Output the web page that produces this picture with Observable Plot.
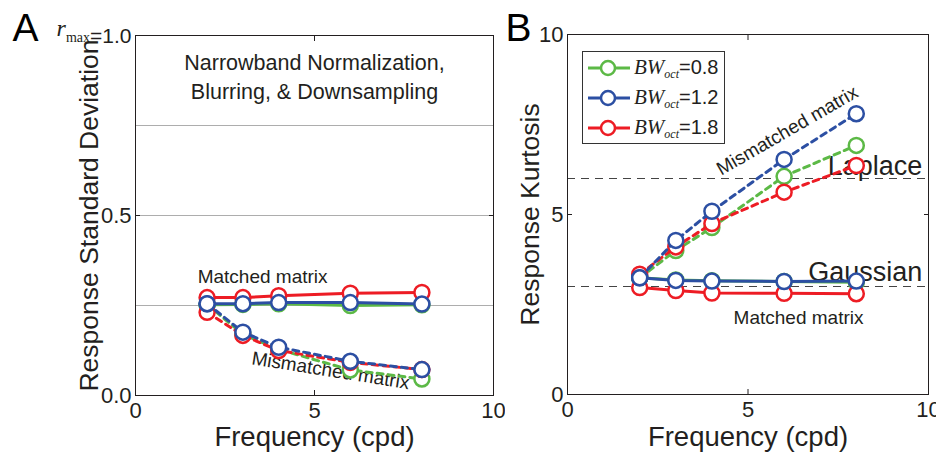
<!DOCTYPE html>
<html><head><meta charset="utf-8">
<script src="https://cdn.jsdelivr.net/npm/d3@7"></script>
<script src="https://cdn.jsdelivr.net/npm/@observablehq/plot@0.6"></script>
<style>
body{margin:0;background:#fff;}
#chart{position:relative;width:936px;height:452px;display:flex;font-family:"Liberation Sans",Arial,Helvetica,sans-serif;color:#231f20;}
#chart svg{display:block;}
#legend{position:absolute;left:582px;top:51px;border:1px solid #333;background:#fff;padding:1px 6px 0 5px;}
.row{display:flex;align-items:center;height:30px;}
.lab{font-size:20px;margin-left:2px;white-space:nowrap;line-height:1;}
.lab i{font-family:"Liberation Serif","Times New Roman",serif;font-size:21px;}
.lab sub{font-size:12px;vertical-align:-4px;}
</style></head>
<body><div id="chart"></div>
<script>
// ---- data ----
const freqs = [2, 3, 4, 6, 8];
const bandwidths = ["0.8", "1.2", "1.8"];
const drawOrder = ["0.8", "1.8", "1.2"];
const seriesColors = ["#5cb946", "#2c4fa3", "#ed1c24"];

// Panel A: response standard deviation
const sdMatched08 = [0.252, 0.253, 0.255, 0.250, 0.252];
const sdMatched12 = [0.255, 0.255, 0.258, 0.258, 0.254];
const sdMatched18 = [0.272, 0.272, 0.277, 0.284, 0.286];
const sdMismatched08 = [0.253, 0.170, 0.128, 0.071, 0.046];
const sdMismatched12 = [0.255, 0.176, 0.134, 0.095, 0.072];
const sdMismatched18 = [0.231, 0.167, 0.125, 0.092, 0.072];

// Panel B: response kurtosis
const kMatched08 = [3.24, 3.18, 3.16, 3.14, 3.12];
const kMatched12 = [3.24, 3.17, 3.15, 3.14, 3.15];
const kMatched18 = [2.97, 2.89, 2.82, 2.81, 2.80];
const kMismatched08 = [3.24, 4.00, 4.64, 6.06, 6.92];
const kMismatched12 = [3.24, 4.28, 5.09, 6.53, 7.80];
const kMismatched18 = [3.34, 4.10, 4.75, 5.62, 6.36];

// ticks
const xTicks = [0, 5, 10];
const xInnerTicks = [5];
const yTicksA = [0, 0.5, 1];
const yInnerTicksA = [0.5];
const gridA = [0.25, 0.5, 0.75];
const yTicksB = [0, 5, 10];
const yInnerTicksB = [5];
const refLinesB = [3, 6];

// text
const titleA = ["Narrowband Normalization,", "Blurring, & Downsampling"];
const xLabel = "Frequency (cpd)";
const yLabelA = "Response Standard Deviation";
const yLabelB = "Response Kurtosis";
const annotationsA = [
  {text: titleA[0], x: 5.0, y: 0.922, rotate: 0, size: 21.5},
  {text: titleA[1], x: 5.0, y: 0.842, rotate: 0, size: 21.5},
  {text: "Matched matrix", x: 3.55, y: 0.33, rotate: 0, size: 19},
  {text: "Mismatched matrix", x: 5.45, y: 0.069, rotate: 9, size: 19}
];
const annotationsB = [
  {text: "Mismatched matrix", x: 6.09, y: 7.33, rotate: -30, size: 19},
  {text: "Matched matrix", x: 6.4, y: 2.14, rotate: 0, size: 19}
];
const refLabelsB = [
  {text: "Laplace", x: 9.83, y: 6.11},
  {text: "Gaussian", x: 9.83, y: 3.15}
];

// ---- build tables ----
function rows(values, bw, kind) {
  return freqs.map((f, i) => ({freq: f, value: values[i], bw, kind}));
}
const dataA = [
  ...rows(sdMatched08, "0.8", "matched"), ...rows(sdMatched12, "1.2", "matched"), ...rows(sdMatched18, "1.8", "matched"),
  ...rows(sdMismatched08, "0.8", "mismatched"), ...rows(sdMismatched12, "1.2", "mismatched"), ...rows(sdMismatched18, "1.8", "mismatched")
];
const dataB = [
  ...rows(kMatched08, "0.8", "matched"), ...rows(kMatched12, "1.2", "matched"), ...rows(kMatched18, "1.8", "matched"),
  ...rows(kMismatched08, "0.8", "mismatched"), ...rows(kMismatched12, "1.2", "mismatched"), ...rows(kMismatched18, "1.8", "mismatched")
];

const ink = "#231f20";
function seriesMarks(data) {
  const marks = [];
  for (const bw of drawOrder) {
    for (const kind of ["mismatched", "matched"]) {
      const d = data.filter(r => r.bw === bw && r.kind === kind);
      marks.push(Plot.line(d, {x: "freq", y: "value", stroke: "bw", strokeWidth: 3,
        strokeDasharray: kind === "mismatched" ? "6,5" : null}));
      marks.push(Plot.dot(d, {x: "freq", y: "value", stroke: "bw", fill: "white", r: 7.5, strokeWidth: 2.5}));
    }
  }
  return marks;
}
function annotationMarks(list) {
  return list.map(a => Plot.text([a], {x: "x", y: "y", text: "text", rotate: a.rotate,
    fontSize: a.size, fill: ink, textAnchor: "middle", lineAnchor: "middle"}));
}
function axisMarks(yTicks, yInner, yFmt) {
  return [
    Plot.axisX(xTicks, {anchor: "bottom", tickSize: 0, tickPadding: 7, fontSize: 22, label: null, tickFormat: d => String(d)}),
    Plot.axisX(xInnerTicks, {anchor: "bottom", tickSize: 5, dy: -5, tickFormat: () => "", label: null, stroke: ink}),
    Plot.axisX(xInnerTicks, {anchor: "top", tickSize: 5, dy: 5, tickFormat: () => "", label: null, stroke: ink}),
    Plot.axisY(yTicks, {anchor: "left", tickSize: 0, tickPadding: 4, fontSize: 22, label: null, tickFormat: yFmt}),
    Plot.axisY(yInner, {anchor: "left", tickSize: 5, dx: 5, tickFormat: () => "", label: null, stroke: ink}),
    Plot.axisY(yInner, {anchor: "right", tickSize: 5, dx: -5, tickFormat: () => "", label: null, stroke: ink})
  ];
}
const style = {fontFamily: '"Liberation Sans", Arial, Helvetica, sans-serif', background: "white", color: ink, overflow: "visible"};
const color = {domain: bandwidths, range: seriesColors};

const svgA = Plot.plot({
  width: 505, height: 452,
  marginLeft: 135, marginRight: 12, marginTop: 35, marginBottom: 57,
  style,
  x: {domain: [0, 10], label: null},
  y: {domain: [0, 1], label: null},
  color,
  marks: [
    Plot.ruleY(gridA, {stroke: "#adadad", strokeWidth: 1}),
    Plot.frame({stroke: ink, strokeWidth: 1}),
    ...axisMarks(yTicksA, yInnerTicksA, d => d.toFixed(1)),
    Plot.text([xLabel], {frameAnchor: "bottom", dy: 50, fontSize: 27.5, textAnchor: "middle", lineAnchor: "bottom", fill: ink}),
    Plot.text([yLabelA], {frameAnchor: "left", dx: -38, rotate: -90, fontSize: 26.5, textAnchor: "middle", lineAnchor: "bottom", fill: ink}),
    Plot.text(["A"], {frameAnchor: "top-left", dx: -123, dy: 5, fontSize: 39, textAnchor: "start", lineAnchor: "bottom", fill: "#000"}),
    ...annotationMarks(annotationsA),
    ...seriesMarks(dataA)
  ]
});

const svgB = Plot.plot({
  width: 431, height: 452,
  marginLeft: 62, marginRight: 8, marginTop: 34, marginBottom: 58,
  style,
  x: {domain: [0, 10], label: null},
  y: {domain: [0, 10], label: null},
  color,
  marks: [
    Plot.ruleY(refLinesB, {stroke: "#444", strokeWidth: 1.2, strokeDasharray: "8,6"}),
    Plot.frame({stroke: ink, strokeWidth: 1}),
    ...axisMarks(yTicksB, yInnerTicksB, d => String(d)),
    Plot.text([xLabel], {frameAnchor: "bottom", dy: 51, fontSize: 27.5, textAnchor: "middle", lineAnchor: "bottom", fill: ink}),
    Plot.text([yLabelB], {frameAnchor: "left", dx: -29, rotate: -90, fontSize: 26.5, textAnchor: "middle", lineAnchor: "bottom", fill: ink}),
    Plot.text(["B"], {frameAnchor: "top-left", dx: -62, dy: 6, fontSize: 39, textAnchor: "start", lineAnchor: "bottom", fill: "#000"}),
    Plot.text(refLabelsB, {x: "x", y: "y", text: "text", fontSize: 27, textAnchor: "end", lineAnchor: "bottom", fill: ink}),
    ...annotationMarks(annotationsB),
    ...seriesMarks(dataB)
  ]
});

// r_max label for the top tick of panel A
d3.select(svgA).selectAll('g[aria-label="y-axis tick label"] text')
  .filter(function() { return this.textContent === "1.0"; })
  .each(function() {
    const t = d3.select(this);
    t.text("");
    t.append("tspan").attr("font-family", '"Liberation Serif", "Times New Roman", serif').attr("font-style", "italic").attr("font-size", 24).attr("dy", -7).text("r");
    t.append("tspan").attr("font-family", '"Liberation Serif", "Times New Roman", serif').attr("font-size", 14).attr("dy", 6).text("max");
    t.append("tspan").attr("font-size", 21).attr("dy", 1).text("=1.0");
  });

const chart = document.getElementById("chart");
chart.appendChild(svgA);
chart.appendChild(svgB);

// legend
const legend = document.createElement("div");
legend.id = "legend";
bandwidths.forEach((bw, i) => {
  const row = document.createElement("div");
  row.className = "row";
  row.innerHTML = `<svg width="44" height="20"><line x1="0" y1="10" x2="42" y2="10" stroke="${seriesColors[i]}" stroke-width="3"/><circle cx="20" cy="10" r="7" fill="white" stroke="${seriesColors[i]}" stroke-width="2.5"/></svg><span class="lab"><i>BW<sub>oct</sub></i>=${bw}</span>`;
  legend.appendChild(row);
});
chart.appendChild(legend);
</script>
</body></html>
